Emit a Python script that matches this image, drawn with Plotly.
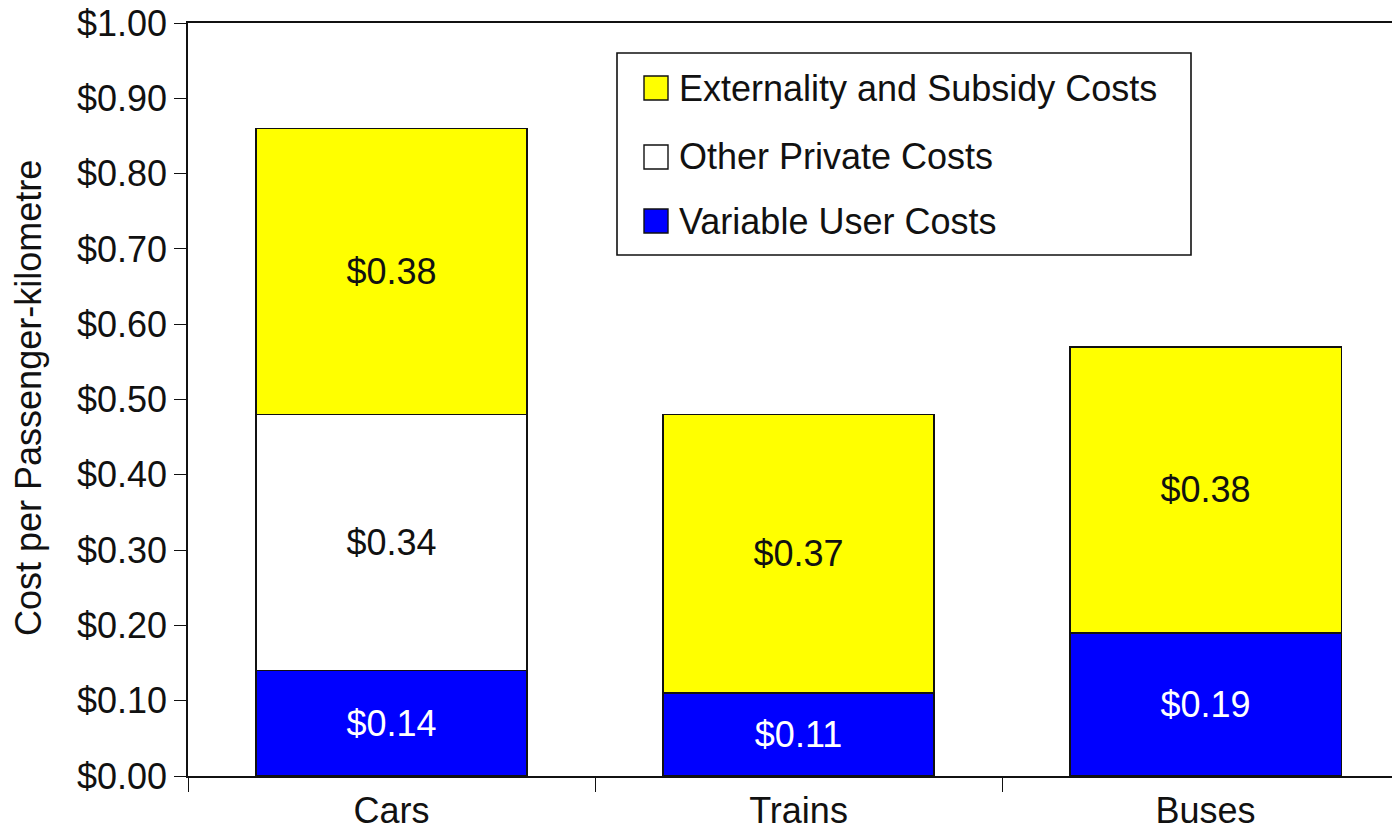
import plotly.graph_objects as go

# Cost components per passenger-kilometre, by mode
modes = ["Cars", "Trains", "Buses"]
variable_user = [0.14, 0.11, 0.19]
other_private = [0.34, None, None]
externality_subsidy = [0.38, 0.37, 0.38]

series_names = ["Variable User Costs", "Other Private Costs", "Externality and Subsidy Costs"]
series_colors = ["#0000FF", "#FFFFFF", "#FFFF00"]
text_colors = ["#FFFFFF", "#111111", "#111111"]
y_ticks = [0.0, 0.1, 0.2, 0.3, 0.4, 0.5, 0.6, 0.7, 0.8, 0.9, 1.0]
y_tick_labels = [f"${v:.2f}" for v in y_ticks]

FONT = "Liberation Sans, Arial, Helvetica, sans-serif"
FS = 36

fig = go.Figure()
for name, vals, col, tcol in zip(series_names,
                                 [variable_user, other_private, externality_subsidy],
                                 series_colors, text_colors):
    fig.add_trace(go.Bar(
        x=modes, y=vals, name=name, width=0.667,
        marker=dict(color=col, line=dict(color="#111111", width=1.6)),
        texttemplate="$%{y:.2f}", textposition="inside",
        insidetextanchor="middle", constraintext="none",
        textfont=dict(family=FONT, size=FS, color=tcol),
        showlegend=False,
    ))

# Plot-area geometry in pixels (used to place the legend box in paper units)
W, H = 1392, 832
L, R, T, B = 188, 0, 23, 56
pw, ph = W - L - R, H - T - B


def px(x):
    return (x - L) / pw


def py(y):
    return (H - B - y) / ph


shapes = [dict(type="rect", xref="paper", yref="paper",
               x0=px(617), x1=px(1191), y0=py(255), y1=py(53),
               line=dict(color="#111111", width=1.6), fillcolor="rgba(0,0,0,0)")]
annotations = []
legend_rows = [88, 157, 221]
for row_y, name, col in zip(legend_rows, series_names[::-1], series_colors[::-1]):
    shapes.append(dict(type="rect", xref="paper", yref="paper",
                       x0=px(644), x1=px(668), y0=py(row_y + 12), y1=py(row_y - 12),
                       line=dict(color="#111111", width=1.4), fillcolor=col))
    annotations.append(dict(xref="paper", yref="paper", x=px(677), y=py(row_y),
                            text=name, showarrow=False, xanchor="left", yanchor="middle",
                            font=dict(family=FONT, size=FS, color="#111111")))

annotations.append(dict(xref="paper", yref="paper", x=px(28), y=py(398),
                        text="Cost per Passenger-kilometre", textangle=-90,
                        showarrow=False, xanchor="center", yanchor="middle",
                        font=dict(family=FONT, size=FS, color="#111111")))

fig.update_layout(
    barmode="stack",
    width=W, height=H,
    margin=dict(l=L, r=R, t=T, b=B, pad=0),
    paper_bgcolor="white", plot_bgcolor="white",
    font=dict(family=FONT, size=FS, color="#111111"),
    shapes=shapes, annotations=annotations,
    xaxis=dict(
        type="category", range=[-0.5, 2.458], automargin=False,
        showline=True, linecolor="#111111", linewidth=1.6, mirror=True,
        ticks="outside", ticklen=14, tickwidth=1.4, tickcolor="#111111",
        tickson="boundaries", showgrid=False, ticklabelstandoff=2,
        tickfont=dict(family=FONT, size=FS, color="#111111"),
    ),
    yaxis=dict(
        range=[0, 1.0], tickmode="array", tickvals=y_ticks, ticktext=y_tick_labels,
        automargin=False,
        showline=True, linecolor="#111111", linewidth=1.6,
        ticks="outside", ticklen=12, tickwidth=1.4, tickcolor="#111111",
        showgrid=False, zeroline=False,
        tickfont=dict(family=FONT, size=FS, color="#111111"),
    ),
)

fig.write_html("out.html")
